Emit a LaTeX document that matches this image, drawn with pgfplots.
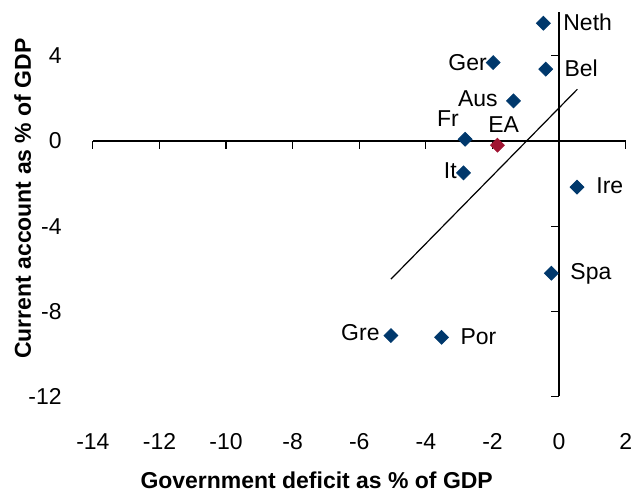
\documentclass[border=0pt]{standalone}
\usepackage{pgfplots}
\pgfplotsset{compat=1.18}
\usepackage{fontspec}
\setmainfont{Liberation Sans}

\definecolor{ptblue}{RGB}{0,56,108}
\definecolor{ptred}{RGB}{160,20,50}

\begin{document}
\begin{tikzpicture}
\fontsize{11.5}{13.5}\selectfont
\begin{axis}[
    x=16.67pt, y=10.66pt,
    axis lines=middle,
    axis line style={-, line width=0.6pt},
    xmin=-14, xmax=2,
    ymin=-12, ymax=6.05,
    xtick={-14,-12,...,2},
    ytick={-12,-8,-4,0,4},
    hide obscured x ticks=false,
    hide obscured y ticks=false,
    tick align=outside,
    major tick length=4pt,
    tick style={black, line width=0.6pt},
    /pgf/number format/assume math mode=true,
    xticklabel style={anchor=center, yshift=-146.5pt},
    yticklabel style={anchor=east, xshift=-241pt},
    xlabel={\textbf{Government deficit as \% of GDP}},
    ylabel={\textbf{Current account as \% of GDP}},
    xlabel style={at={(axis description cs:0.42,-0.219)}, anchor=center},
    ylabel style={at={(axis description cs:-0.132,0.515)}, anchor=center, rotate=90},
    clip=false,
]

% fitted line
\addplot[black, line width=0.6pt] coordinates {(-5.05,-6.49) (0.55,2.43)};

% countries
\addplot[
    only marks,
    mark=square*,
    mark size=2.45pt,
    mark options={rotate=45, fill=ptblue, draw=ptblue},
    nodes near coords,
    point meta=explicit symbolic,
    visualization depends on={value \thisrow{anc} \as \myanc},
    visualization depends on={value \thisrow{dx} \as \mydx},
    visualization depends on={value \thisrow{dy} \as \mydy},
    every node near coord/.append style={anchor=\myanc, inner sep=0pt,
        text height=8.3pt, text depth=0pt,
        xshift=\mydx pt, yshift=\mydy pt, black, font=\fontsize{11.5}{13.5}\selectfont},
] table[meta=lab] {
x      y      lab   anc   dx     dy
-0.47  5.53   Neth  west  9.8    0.65
-1.98  3.68   Ger   east  -3.0   0.35
-0.40  3.37   Bel   west  9.2    0.65
-1.37  1.88   Aus   east  -7.7   1.5
-2.82  0.08   Fr    east  -3.0   10.65
-2.87  -1.50  It    east  -3.2   1.5
0.54   -2.17  Ire   west  9.5    1.15
-0.23  -6.21  Spa   west  9.35   0.8
-5.05  -9.14  Gre   east  -5.5   1.5
-3.53  -9.22  Por   west  9.35   0.65
};

% euro area
\addplot[
    only marks,
    mark=square*,
    mark size=2.45pt,
    mark options={rotate=45, fill=ptred, draw=ptred},
    nodes near coords,
    point meta=explicit symbolic,
    every node near coord/.append style={anchor=center, inner sep=0pt,
        text height=8.3pt, text depth=0pt,
        xshift=3.1pt, yshift=10.65pt, black, font=\fontsize{11.5}{13.5}\selectfont},
] table[meta=lab] {
x      y      lab
-1.85  -0.20  EA
};

% page corners
\coordinate (tl) at (axis cs:-16.79,6.62);
\coordinate (br) at (axis cs:2.19,-16.53);
\end{axis}
\pgfresetboundingbox
\path (tl) rectangle (br);
\end{tikzpicture}
\end{document}
